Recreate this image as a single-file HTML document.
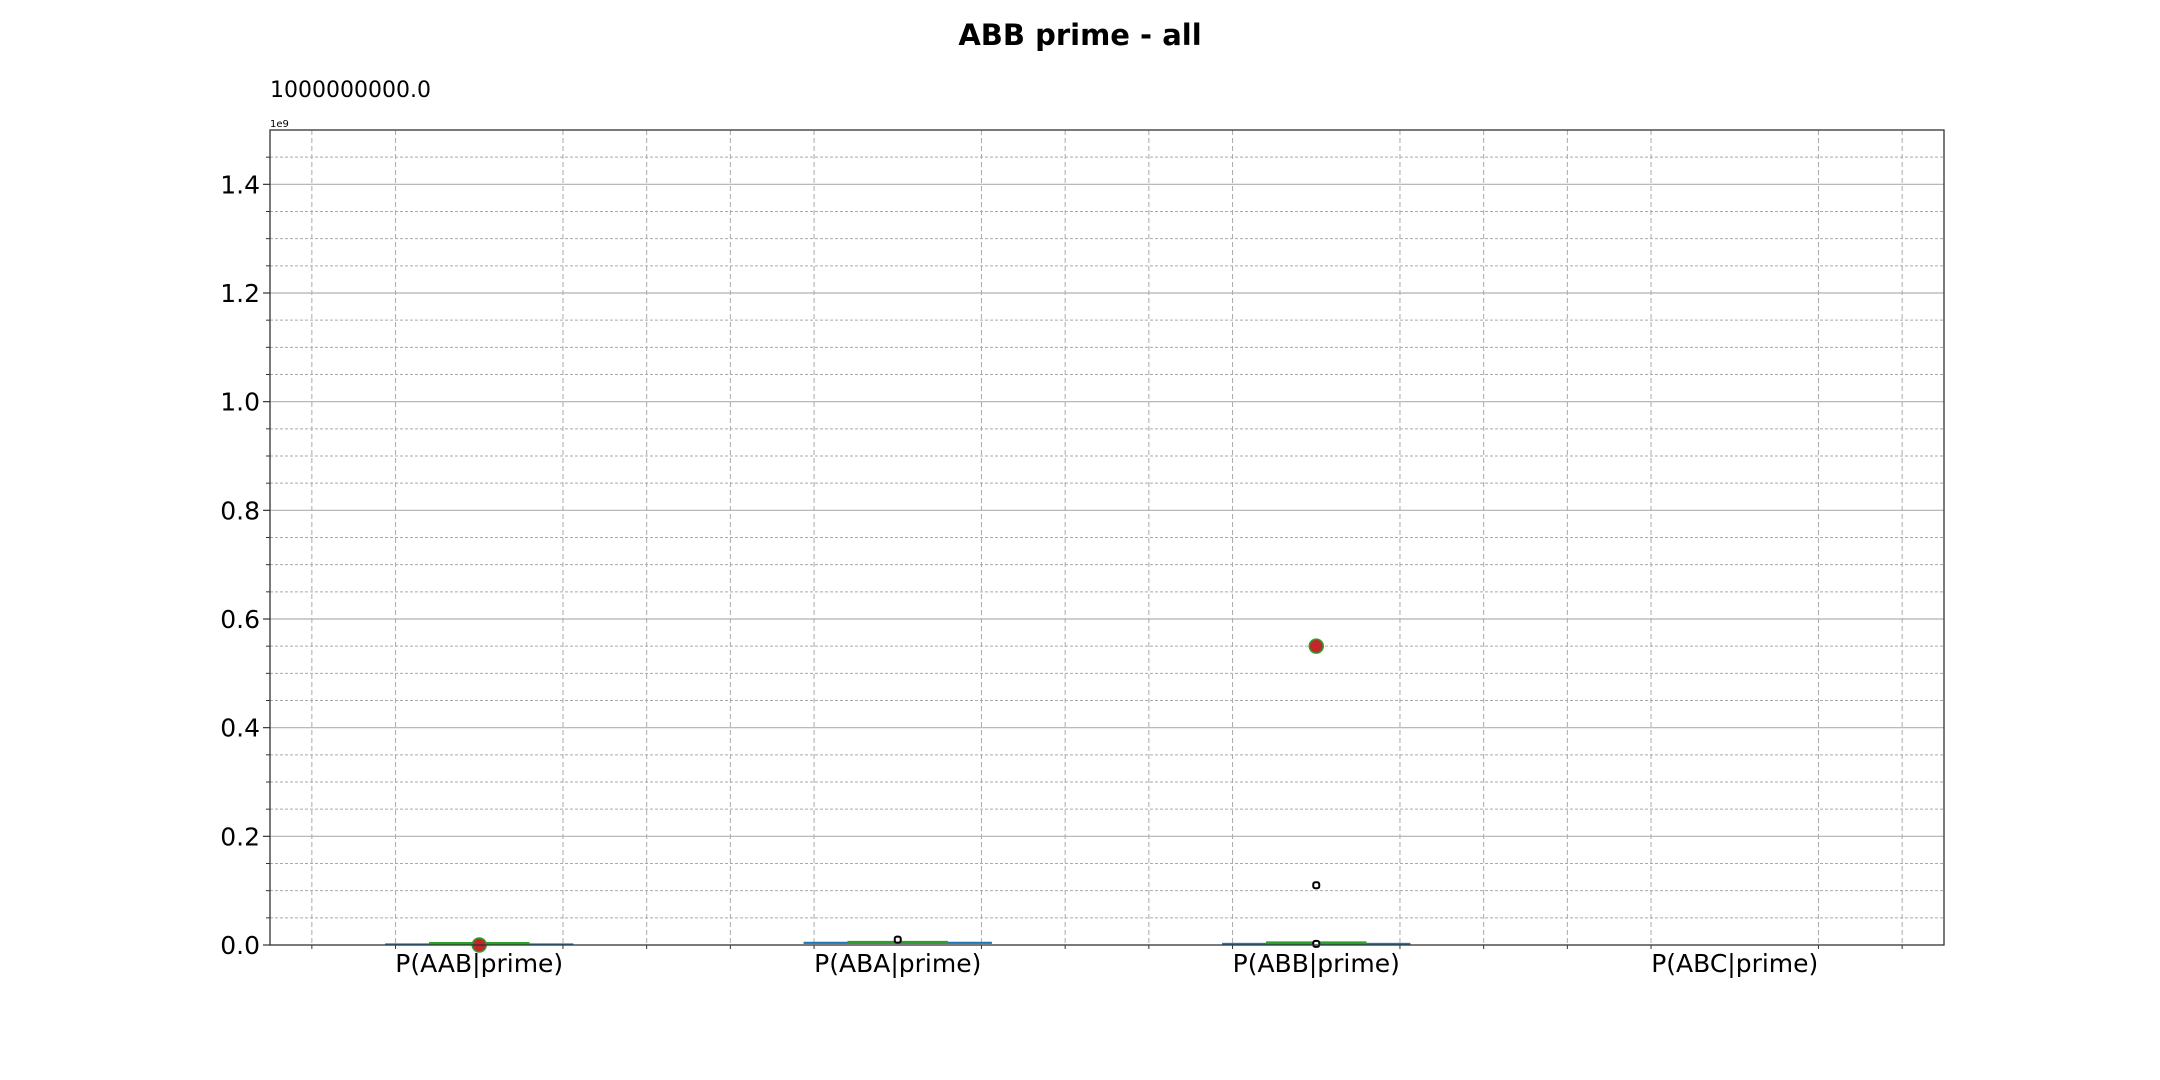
<!DOCTYPE html>
<html><head><meta charset="utf-8"><style>
html,body{margin:0;padding:0;background:#fff}
svg{display:block;font-family:"DejaVu Sans","Liberation Sans",sans-serif}
</style></head><body>
<svg id="chart" width="2160" height="1080" viewBox="0 0 2160 1080">
<text x="1080" y="45" text-anchor="middle" font-size="29" font-weight="bold">ABB prime - all</text>
<text x="270" y="97" font-size="22">1000000000.0</text>
<text x="270" y="127" font-size="10">1e9</text>
<g id="grid"></g>
<g id="marks"></g>
<rect x="270" y="130" width="1674" height="815" fill="none" stroke="#333" stroke-width="1.3"/>
<g id="axes"></g>
</svg>
<script>
const categories = ["P(AAB|prime)","P(ABA|prime)","P(ABB|prime)","P(ABC|prime)"];
const q1Values = [0, 0.002, 0.001, null];
const q3Values = [0.003, 0.006, 0.004, null];
const medianValues = [0.001, 0.003, 0.002, null];
const meanValues = [0.0, null, 0.55, null];
const outlierValues = [[], [0.01], [0.11, 0.002], []];
const yTicks = [0, 0.2, 0.4, 0.6, 0.8, 1.0, 1.2, 1.4];
const yTickLabels = ["0.0","0.2","0.4","0.6","0.8","1.0","1.2","1.4"];

const L=270,R=1944,T=130,B=945;
const x = v => L + (v-0.5)/4*(R-L);
const y = v => B - v/1.5*(B-T);
const NS="http://www.w3.org/2000/svg";
function mk(tag, attrs, parent){const e=document.createElementNS(NS,tag);for(const k in attrs)e.setAttribute(k,attrs[k]);parent.appendChild(e);return e;}
const grid=document.getElementById('grid'), marks=document.getElementById('marks'), axes=document.getElementById('axes');

for(let i=1;i<30;i++){
  const v=i*0.05;
  const major=(i%4===0);
  const l=mk('line',{x1:L,x2:R,y1:y(v),y2:y(v),stroke:major?'#b0b0b0':'#aaa','stroke-width':major?1.2:1,'stroke-dasharray':major?'':'3,2'},grid);
  
  
  if(!major){
    const t=mk('line',{x1:L-4,x2:L,y1:y(v),y2:y(v),stroke:'#333'},axes);
    
    
  }
}
for(let i=6;i<=44;i+=2){
  if(i%10===0) continue;
  const v=i/10;
  const l=mk('line',{x1:x(v),x2:x(v),y1:T,y2:B,stroke:'#aaa','stroke-width':1,'stroke-dasharray':'5,3'},grid);
  
  
  const t=mk('line',{x1:x(v),x2:x(v),y1:B,y2:B+4,stroke:'#333'},axes);
  
  
}
yTicks.forEach((v,i)=>{
  const t=mk('line',{x1:L-7,x2:L,y1:y(v),y2:y(v),stroke:'#333','stroke-width':1.2},axes);
  
  
  const tx=mk('text',{x:L-10,y:y(v)+9,'text-anchor':'end','font-size':25},axes);
  tx.textContent=yTickLabels[i];
  
  
});
categories.forEach((c,i)=>{
  const cx=x(i+1);
  const tx=mk('text',{x:cx,y:B+27,'text-anchor':'middle','font-size':25},axes);
  tx.textContent=c;
  
  
  if(q1Values[i]!==null){
    const bx=mk('rect',{x:x(i+1-0.225),y:y(q3Values[i]),width:x(i+1.225)-x(i+1-0.225),height:Math.max(2,y(q1Values[i])-y(q3Values[i])),fill:'#1f77b4'},marks);
    
    
    const md=mk('line',{x1:x(i+1-0.12),x2:x(i+1.12),y1:y(medianValues[i])-1,y2:y(medianValues[i])-1,stroke:'#2ca02c','stroke-width':3},marks);
    
    
  }
  outlierValues[i].forEach(v=>{
    const o=mk('rect',{x:cx-3,y:y(v)-3,width:6,height:6,rx:2,fill:'#fff',stroke:'#000','stroke-width':2},marks);
    
    
  });
  if(meanValues[i]!==null){
    const m=mk('circle',{cx:cx,cy:y(meanValues[i]),r:7,fill:'#c0282a',stroke:'#2ca02c','stroke-width':1.5},marks);
    
    
  }
});
</script>
</body></html>
